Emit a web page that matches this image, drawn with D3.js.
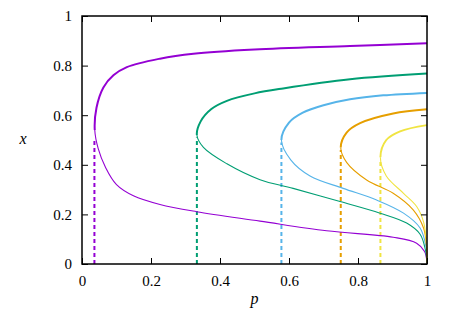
<!DOCTYPE html>
<html>
<head>
<meta charset="utf-8">
<script src="https://cdn.jsdelivr.net/npm/d3@7"></script>
<style>
  body { margin: 0; background: #fff; }
  svg text { font-family: "Liberation Serif", "Times New Roman", Times, "DejaVu Serif", serif !important; }
</style>
</head>
<body>
<div id="chart"></div>
<script>
// curves: [p, x], from the bottom end up to the top end
const curvePurple = [[1, 0.005], [0.993, 0.05], [0.97, 0.084], [0.902, 0.108], [0.709, 0.134], [0.516, 0.173],
  [0.332, 0.211], [0.226, 0.24], [0.149, 0.275], [0.1, 0.32], [0.068, 0.39], [0.047, 0.465], [0.037, 0.54],
  [0.042, 0.63], [0.062, 0.712], [0.091, 0.761], [0.13, 0.794], [0.226, 0.828], [0.323, 0.848], [0.5, 0.865],
  [0.777, 0.879], [1, 0.89]];
const curveGreen = [[1, 0.005], [0.995, 0.06], [0.98, 0.12], [0.941, 0.165], [0.864, 0.205], [0.748, 0.252],
  [0.612, 0.305], [0.516, 0.34], [0.42, 0.404], [0.352, 0.47], [0.333, 0.52], [0.344, 0.575], [0.375, 0.625],
  [0.42, 0.658], [0.5, 0.688], [0.583, 0.708], [0.777, 0.745], [1, 0.768]];
const curveBlue = [[1, 0.005], [0.997, 0.07], [0.98, 0.145], [0.932, 0.205], [0.854, 0.258], [0.757, 0.305],
  [0.661, 0.355], [0.605, 0.42], [0.578, 0.5], [0.6, 0.57], [0.64, 0.61], [0.7, 0.64], [0.777, 0.664],
  [0.873, 0.68], [1, 0.69]];
const curveOrange = [[1, 0.005], [0.998, 0.08], [0.99, 0.145], [0.96, 0.218], [0.902, 0.285], [0.825, 0.339],
  [0.767, 0.41], [0.75, 0.47], [0.767, 0.53], [0.806, 0.568], [0.902, 0.607], [1, 0.624]];
const curveYellow = [[1, 0.005], [0.998, 0.09], [0.99, 0.17], [0.97, 0.232], [0.932, 0.285], [0.882, 0.355],
  [0.865, 0.43], [0.882, 0.5], [0.922, 0.535], [1, 0.56]];

// fold points, dashed lines go from x=0 up to these
const foldP = [0.036, 0.333, 0.578, 0.75, 0.865];
const foldX = [0.5, 0.51, 0.49, 0.46, 0.42];

const tickValues = [0, 0.2, 0.4, 0.6, 0.8, 1];
const tickLabels = ["0", "0.2", "0.4", "0.6", "0.8", "1"];

const curves = [curvePurple, curveGreen, curveBlue, curveOrange, curveYellow];
const colors = ["#9400d3", "#009e73", "#56b4e9", "#e69f00", "#f0e442"];

var width = 457, height = 319;
var margin = { top: 16, right: 30, bottom: 55, left: 82 };

const svg = d3.select("#chart").append("svg")
  .attr("width", width)
  .attr("height", height);

const xScale = d3.scaleLinear().domain([0, 1]).range([margin.left, width - margin.right]);
const yScale = d3.scaleLinear().domain([0, 1]).range([height - margin.bottom, margin.top]);

// clip regions above / below each fold, so the upper branch can be drawn thicker
const defs = svg.append("defs");
curves.forEach((c, i) => {
  let tip = c.reduce((a, b) => (b[0] < a[0] ? b : a));
  let yTip = yScale(tip[1]);
  defs.append("clipPath").attr("id", "up" + i)
    .append("rect").attr("x", 0).attr("y", 0).attr("width", width).attr("height", yTip);
  defs.append("clipPath").attr("id", "lo" + i)
    .append("rect").attr("x", 0).attr("y", yTip).attr("width", width).attr("height", height - yTip);
});

const line = d3.line()
  .x(d => xScale(d[0]))
  .y(d => yScale(d[1]))
  .curve(d3.curveCatmullRom.alpha(0.5));

// dashed fold lines
svg.selectAll(".fold")
  .data(foldP)
  .enter()
  .append("line")
  .attr("class", "fold")
  .attr("x1", d => xScale(d))
  .attr("x2", d => xScale(d))
  .attr("y1", yScale(0))
  .attr("y2", (d, i) => yScale(foldX[i]))
  .attr("stroke", (d, i) => colors[i])
  .attr("stroke-width", 2)
  .attr("stroke-dasharray", "4,3");

curves.forEach((c, i) => {
  svg.append("path")
    .attr("d", line(c))
    .attr("fill", "none")
    .attr("stroke", colors[i])
    .attr("stroke-width", 1.1)
    .attr("clip-path", "url(#lo" + i + ")");
  svg.append("path")
    .attr("d", line(c))
    .attr("fill", "none")
    .attr("stroke", colors[i])
    .attr("stroke-width", 2)
    .attr("clip-path", "url(#up" + i + ")");
});

// axes: ticks inward on all four sides
const fmt = (d, i) => tickLabels[i];
svg.append("g")
  .attr("transform", `translate(0,${yScale(0)})`)
  .call(d3.axisBottom(xScale).tickValues(tickValues).tickFormat(fmt).tickSizeInner(-6).tickSizeOuter(0).tickPadding(11));
svg.append("g")
  .attr("transform", `translate(0,${yScale(1)})`)
  .call(d3.axisTop(xScale).tickValues(tickValues).tickFormat("").tickSizeInner(-6).tickSizeOuter(0));
svg.append("g")
  .attr("transform", `translate(${xScale(0)},0)`)
  .call(d3.axisLeft(yScale).tickValues(tickValues).tickFormat(fmt).tickSizeInner(-6).tickSizeOuter(0).tickPadding(10));
svg.append("g")
  .attr("transform", `translate(${xScale(1)},0)`)
  .call(d3.axisRight(yScale).tickValues(tickValues).tickFormat("").tickSizeInner(-6).tickSizeOuter(0));

svg.selectAll(".domain").remove();
svg.selectAll("g").attr("font-family", null);
svg.selectAll(".tick line").attr("stroke", "#000").attr("stroke-width", 1);
svg.selectAll(".tick text").attr("font-size", 15).attr("fill", "#000");

// frame
svg.append("rect")
  .attr("x", xScale(0))
  .attr("y", yScale(1))
  .attr("width", xScale(1) - xScale(0))
  .attr("height", yScale(0) - yScale(1))
  .attr("fill", "none")
  .attr("stroke", "#000")
  .attr("stroke-width", 1.5);

// axis titles
svg.append("text")
  .attr("x", (xScale(0) + xScale(1)) / 2)
  .attr("y", 304)
  .attr("text-anchor", "middle")
  .attr("font-size", 16)
  .attr("font-style", "italic")
  .text("p");
svg.append("text")
  .attr("x", 23)
  .attr("y", 144)
  .attr("text-anchor", "middle")
  .attr("font-size", 16)
  .attr("font-style", "italic")
  .text("x");
</script>
</body>
</html>
